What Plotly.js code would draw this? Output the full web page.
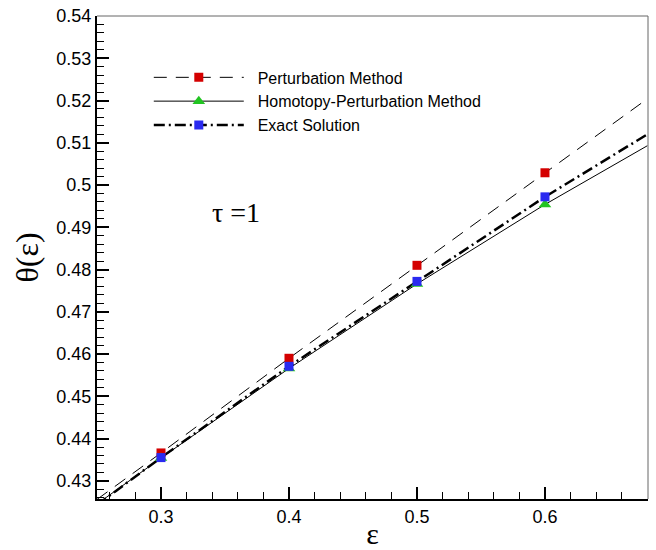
<!DOCTYPE html>
<html>
<head>
<meta charset="utf-8">
<script src="https://cdn.plot.ly/plotly-3.0.1.min.js"></script>
<style>html,body{margin:0;padding:0;background:#fff;}#chart{width:656px;height:550px;}</style>
</head>
<body>
<div id="chart"></div>
<script>
// Marker data (epsilon values and theta values)
const epsMarkers = [0.3, 0.4, 0.5, 0.6];
const pertMarkers = [0.4366, 0.4590, 0.4810, 0.5029];
const homMarkers = [0.4354, 0.4566, 0.4766, 0.4954];
const exactMarkers = [0.4355, 0.4571, 0.4772, 0.4972];

// Curve data
const epsCurve = [0.25, 0.3, 0.4, 0.5, 0.6, 0.68];
const pertCurve = [0.4256, 0.4366, 0.4590, 0.4810, 0.5029, 0.5204];
const homCurve = [0.4245, 0.4354, 0.4566, 0.4766, 0.4954, 0.5093];
const exactCurve = [0.4243, 0.4355, 0.4571, 0.4772, 0.4972, 0.5120];

const names = ['Perturbation Method', 'Homotopy-Perturbation Method', 'Exact Solution'];

const pertLine = {color: '#000', width: 1, dash: '13px,9px'};
const homLine = {color: '#000', width: 1};
const exactLine = {color: '#000', width: 2.5, dash: '11px,4px,2px,4px'};
const pertMarker = {symbol: 'square', size: 9, color: '#d40000'};
const homMarker = {symbol: 'triangle-up', size: 11, color: '#22c422'};
const exactMarker = {symbol: 'square', size: 9, color: '#2a2af0'};

const traces = [
  {x: epsCurve, y: pertCurve, mode: 'lines', line: pertLine, showlegend: false},
  {x: epsCurve, y: homCurve, mode: 'lines', line: homLine, showlegend: false},
  {x: epsCurve, y: exactCurve, mode: 'lines', line: exactLine, showlegend: false},
  {x: epsMarkers, y: pertMarkers, mode: 'markers', marker: pertMarker, showlegend: false},
  {x: epsMarkers, y: homMarkers, mode: 'markers', marker: homMarker, showlegend: false},
  {x: epsMarkers, y: exactMarkers, mode: 'markers', marker: exactMarker, showlegend: false},
  // legend entries (line + marker symbol)
  {x: [null], y: [null], name: '\u00a0\u00a0' + names[0], mode: 'lines+markers', line: pertLine, marker: pertMarker},
  {x: [null], y: [null], name: '\u00a0\u00a0' + names[1], mode: 'lines+markers', line: homLine, marker: homMarker},
  {x: [null], y: [null], name: '\u00a0\u00a0' + names[2], mode: 'lines+markers', line: exactLine, marker: exactMarker}
];

const tickFont = {family: 'Liberation Sans, Arial, sans-serif', size: 18, color: '#000'};

const layout = {
  width: 656, height: 550,
  margin: {l: 97, r: 8, t: 16, b: 51},
  paper_bgcolor: '#fff', plot_bgcolor: '#fff',
  showlegend: true,
  legend: {x: 0.094, y: 0.908, xanchor: 'left', yanchor: 'top', bgcolor: 'rgba(0,0,0,0)',
           font: {family: 'Liberation Sans, Arial, sans-serif', size: 16, color: '#000'},
           itemwidth: 90, tracegroupgap: 0, traceorder: 'normal'},
  xaxis: {range: [0.25, 0.6805], dtick: 0.1, tick0: 0.3, tickformat: '.1f', showgrid: false, zeroline: false,
          ticks: 'inside', ticklen: 12, tickwidth: 2, tickcolor: '#000',
          showline: true, linecolor: '#000', linewidth: 2,
          minor: {dtick: 0.02, ticks: 'inside', ticklen: 7, tickwidth: 1, tickcolor: '#000', showgrid: false},
          tickfont: tickFont,
          title: {text: 'ε', font: {family: 'Liberation Serif, Times New Roman, serif', size: 30, color: '#000'}, standoff: 6}},
  yaxis: {range: [0.4257, 0.54], dtick: 0.01, tick0: 0.43, tickformat: '.2~f', showgrid: false, zeroline: false,
          ticks: 'inside', ticklen: 12, tickwidth: 2, tickcolor: '#000',
          showline: true, linecolor: '#000', linewidth: 2,
          minor: {dtick: 0.002, ticks: 'inside', ticklen: 7, tickwidth: 1, tickcolor: '#000', showgrid: false},
          tickfont: tickFont,
          title: {text: 'θ(ε)', font: {family: 'Liberation Serif, Times New Roman, serif', size: 32, color: '#000'}, standoff: 8}},
  shapes: [
    {type: 'line', xref: 'paper', yref: 'paper', x0: 0, x1: 1, y0: 1, y1: 1, line: {color: '#666', width: 1}},
    {type: 'line', xref: 'paper', yref: 'paper', x0: 1, x1: 1, y0: 0, y1: 1, line: {color: '#666', width: 1}}
  ],
  annotations: [
    {xref: 'paper', yref: 'paper', x: 0.205, y: 0.594, text: 'τ =1', showarrow: false,
     font: {family: 'Liberation Serif, Times New Roman, serif', size: 28, color: '#000'}}
  ]
};

Plotly.newPlot('chart', traces, layout, {displayModeBar: false, staticPlot: true});
</script>
</body>
</html>
